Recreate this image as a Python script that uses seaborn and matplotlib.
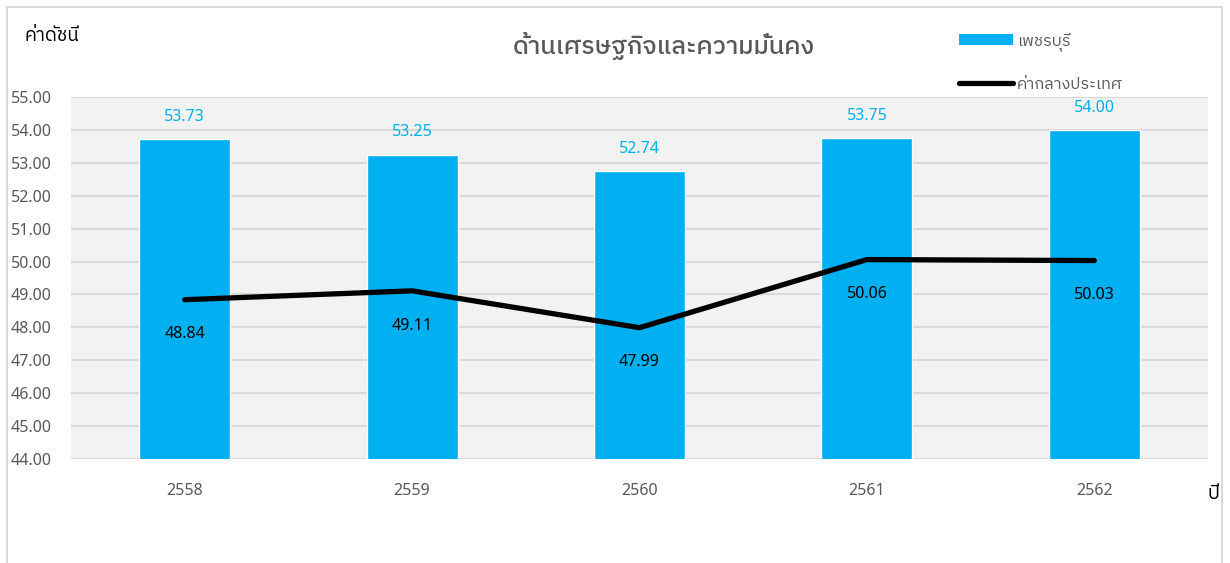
import matplotlib
matplotlib.use("Agg")
import matplotlib.pyplot as plt
import numpy as np
import seaborn as sns
from matplotlib.lines import Line2D
from matplotlib.patches import Patch, Rectangle

years = ["2558", "2559", "2560", "2561", "2562"]
phetchaburi = [53.73, 53.25, 52.74, 53.75, 54.00]
national = [48.84, 49.11, 47.99, 50.06, 50.03]
yticks = [44, 45, 46, 47, 48, 49, 50, 51, 52, 53, 54, 55]

TITLE = "ด้านเศรษฐกิจและความมั่นคง"
YLABEL = "ค่าดัชนี"
XLABEL = "ปี"
SERIES_BAR = "เพชรบุรี"
SERIES_LINE = "ค่ากลางประเทศ"

BLUE = "#00B0F0"
GREY_TEXT = "#595959"
THAI = ["IBM Plex Sans Thai", "DejaVu Sans"]

sns.set_theme(style="white")
plt.rcParams["font.family"] = ["Noto Sans", "IBM Plex Sans Thai", "DejaVu Sans"]

fig = plt.figure(figsize=(12.3, 5.63), dpi=100)
ax = fig.add_axes([71 / 1230, 1 - 459 / 563, 1137 / 1230, 362 / 563])
ax.set_facecolor("#F2F2F2")

sns.barplot(x=years, y=phetchaburi, color=BLUE, saturation=1, width=0.4, ax=ax, zorder=2)
sns.lineplot(x=np.arange(len(years)), y=national, color="black", linewidth=3.8,
             ax=ax, zorder=3, solid_capstyle="round")

ax.set_ylim(44, 55)
ax.set_xlim(-0.5, len(years) - 0.5)
ax.set_yticks(yticks)
ax.set_yticklabels([f"{v:.2f}" for v in yticks])
ax.yaxis.grid(True, color="#D9D9D9", linewidth=1.5)
ax.set_axisbelow(True)
for s in ax.spines.values():
    s.set_visible(False)
ax.tick_params(axis="y", length=0, pad=14, labelsize=11.5, labelcolor=GREY_TEXT)
ax.tick_params(axis="x", length=0, pad=17, labelsize=11.5, labelcolor=GREY_TEXT)
ax.set_xlabel("")
ax.set_ylabel("")

for i, v in enumerate(phetchaburi):
    ax.annotate(f"{v:.2f}", (i, v), xytext=(0, 16), textcoords="offset points",
                ha="center", va="center", color=BLUE, fontsize=11.5)
for i, v in enumerate(national):
    ax.annotate(f"{v:.2f}", (i, v), xytext=(0, -25), textcoords="offset points",
                ha="center", va="center", color="black", fontsize=11.5)

fig.text(664 / 1230, 1 - 46 / 563, TITLE, ha="center", va="center",
         fontsize=18, color=GREY_TEXT, family=THAI, fontweight="medium")
fig.text(25 / 1230, 1 - 36 / 563, YLABEL, ha="left", va="center",
         fontsize=13.5, color="black", family=THAI)
fig.text(1213 / 1230, 1 - 494 / 563, XLABEL, ha="center", va="center",
         fontsize=14, color="black", family=THAI)

handles = [Patch(facecolor=BLUE, edgecolor="none"),
           Line2D([0], [0], color="black", linewidth=3.8, solid_capstyle="round")]
fig.legend(handles, [SERIES_BAR, SERIES_LINE], loc="upper left",
           bbox_to_anchor=(944 / 1230, 1 - 17 / 563), frameon=False,
           handlelength=3.3, handleheight=0.65, labelspacing=1.55, handletextpad=0.25,
           prop={"family": THAI, "size": 11.8},
           labelcolor=GREY_TEXT)

fig.patches.append(Rectangle((7 / 1230, -0.05), 1215 / 1230, 1.05 - 7 / 563,
                             transform=fig.transFigure, fill=False,
                             edgecolor="#D9D9D9", linewidth=1.5))

fig.savefig("out.png", dpi=100, facecolor="white")
